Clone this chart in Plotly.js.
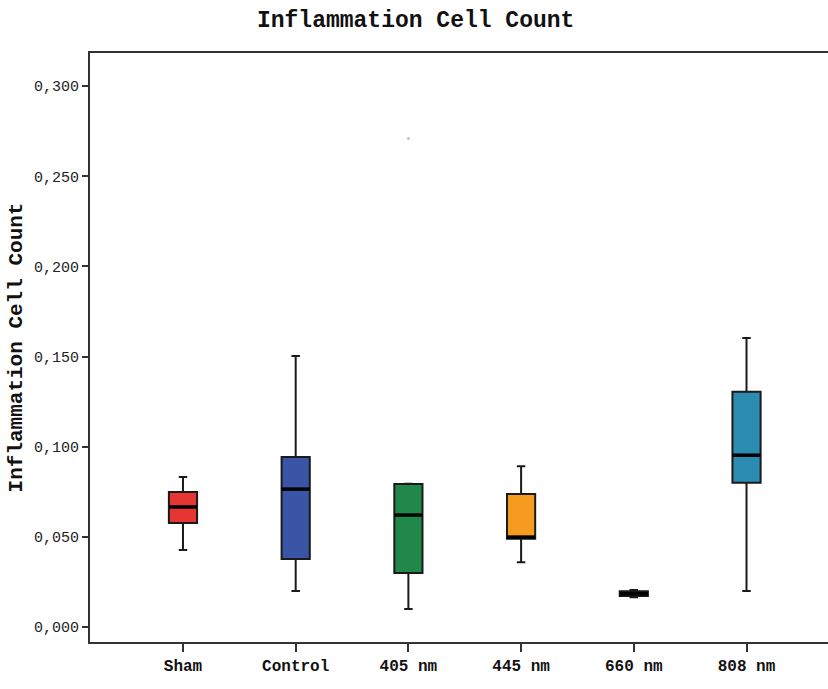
<!DOCTYPE html>
<html><head><meta charset="utf-8">
<script src="https://cdn.plot.ly/plotly-3.0.1.min.js"></script>
<style>html,body{margin:0;padding:0;background:#fff}#chart{width:828px;height:689px}</style>
</head><body><div id="chart"></div>
<script>
const categories = ["Sham", "Control", "405 nm", "445 nm", "660 nm", "808 nm"];
const lowerWhisker = [0.0427, 0.0200, 0.0100, 0.0360, 0.0165, 0.0200];
const q1Values     = [0.0577, 0.0377, 0.0300, 0.0490, 0.0172, 0.0800];
const medianValues = [0.0666, 0.0765, 0.0621, 0.0499, 0.0185, 0.0953];
const q3Values     = [0.0749, 0.0943, 0.0793, 0.0738, 0.0198, 0.1305];
const upperWhisker = [0.0832, 0.1503, 0.0795, 0.0892, 0.0205, 0.1603];
const outlierCategory = ["405 nm"];
const outlierValues = [0.271];
const boxColors = ["#e63634", "#3b55a6", "#20894a", "#f49b20", "#5a5a3c", "#2c8bb1"];

const mono = "Liberation Mono, Courier New, monospace";
const traces = categories.map((c, i) => ({
  type: "box",
  x: [c],
  q1: [q1Values[i]], median: [medianValues[i]], q3: [q3Values[i]],
  lowerfence: [lowerWhisker[i]], upperfence: [upperWhisker[i]],
  fillcolor: boxColors[i],
  line: {color: "#1a1a1a", width: 2},
  width: 0.25,
  whiskerwidth: 0.3,
  boxpoints: false,
  hoverinfo: "skip",
  showlegend: false
}));
traces.push({
  type: "scatter", mode: "markers", x: categories, y: medianValues,
  marker: {symbol: "line-ew", size: 20, line: {color: "#000", width: 3.5}},
  hoverinfo: "skip", showlegend: false
});
traces.push({
  type: "scatter", mode: "markers", x: outlierCategory, y: outlierValues,
  marker: {symbol: "circle", size: 2.5, color: "#b0b0b0"},
  hoverinfo: "skip", showlegend: false
});

const layout = {
  width: 828, height: 689,
  margin: {l: 90, r: 0, t: 53, b: 47},
  paper_bgcolor: "#fff", plot_bgcolor: "#fff",
  separators: ",.",
  title: {text: "Inflammation Cell Count", x: 0.502, xanchor: "center", y: 0.972, yanchor: "middle",
          font: {family: mono, size: 23, color: "#111", weight: "bold"}},
  xaxis: {
    type: "category", categoryorder: "array", categoryarray: categories,
    range: [-0.825, 5.723],
    showgrid: false, zeroline: false,
    showline: true, linecolor: "#333", linewidth: 2, mirror: true,
    ticks: "outside", ticklen: 8, tickwidth: 2, tickcolor: "#333",
    tickfont: {family: mono, size: 16, color: "#111", weight: "bold"}
  },
  yaxis: {
    range: [-0.0083, 0.3184],
    tickvals: [0, 0.05, 0.1, 0.15, 0.2, 0.25, 0.3],
    tickformat: ".3f",
    showgrid: false, zeroline: false,
    showline: true, linecolor: "#333", linewidth: 2,
    ticks: "outside", ticklen: 6, tickwidth: 2, tickcolor: "#333",
    tickfont: {family: mono, size: 15, color: "#222"},
    title: {text: "Inflammation Cell Count", standoff: 6,
            font: {family: mono, size: 21, color: "#111", weight: "bold"}}
  },
  boxmode: "overlay"
};
Plotly.newPlot("chart", traces, layout, {displayModeBar: false, staticPlot: true});
</script></body></html>
